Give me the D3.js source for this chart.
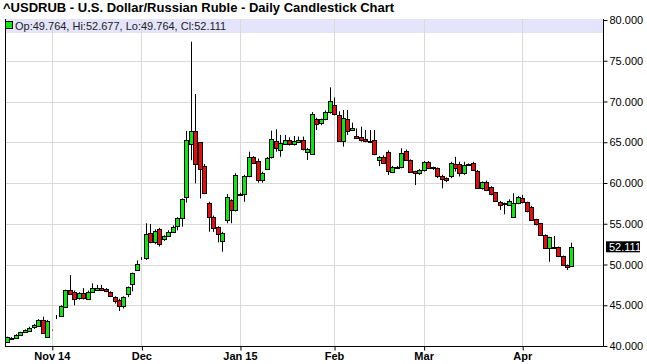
<!DOCTYPE html>
<html>
<head>
<meta charset="utf-8">
<script src="https://cdn.jsdelivr.net/npm/d3@7"></script>
<style>
  body { margin: 0; background: #fff; }
  svg { display: block; font-family: "Liberation Sans", Arial, sans-serif; }
</style>
</head>
<body>
<svg id="chart" width="647" height="364"></svg>
<script>
// daily candles, Oct 20 2014 .. Apr 2015 (one entry per trading day)
const opens = [
  40.45, 40.90, 40.98, 41.30, 41.68, 41.90, 42.25, 42.50, 43.20, 41.05,
  41.95, 43.60, 43.70, 44.82, 46.90, 46.65, 45.85, 46.45, 45.85, 46.66,
  46.95, 47.15, 46.95, 46.65, 46.05, 45.70, 44.95, 46.35, 47.50, 49.30,
  50.83, 50.83, 53.90, 52.72, 54.32, 53.10, 53.50, 54.02, 54.64, 55.67,
  58.25, 64.80, 66.42, 64.99, 62.08, 57.50, 55.87, 54.64, 52.80, 55.55,
  57.90, 56.69, 58.60, 58.65, 60.86, 63.15, 62.70, 60.37, 61.68, 63.15,
  65.19, 63.97, 64.79, 65.28, 64.79, 65.07, 65.28, 63.72, 63.56, 67.82,
  67.30, 67.82, 68.67, 69.57, 68.34, 65.07, 67.80, 66.50, 65.80, 65.69,
  65.36, 65.10, 65.28, 62.82, 63.23, 63.77, 61.31, 61.90, 61.93, 63.93,
  62.82, 61.47, 61.19, 61.50, 62.62, 61.95, 61.80, 60.90, 60.57, 60.77,
  62.30, 62.33, 61.27, 62.20, 62.42, 61.50, 59.35, 60.08, 59.47, 58.85,
  57.70, 57.40, 57.38, 55.79, 57.50, 58.12, 57.63, 57.09, 55.55, 55.06,
  53.62, 51.98, 52.20, 52.11, 51.04, 49.94, 49.764
];
const highs = [
  41.15, 41.10, 41.45, 41.75, 42.05, 42.35, 42.70, 43.30, 43.60, 43.20,
  42.00, 43.80, 45.00, 46.90, 48.70, 46.80, 46.60, 47.10, 46.80, 47.70,
  47.50, 47.50, 47.10, 46.70, 46.10, 45.80, 46.10, 47.30, 49.00, 50.50,
  50.90, 55.06, 54.97, 54.30, 54.50, 53.60, 54.20, 54.80, 55.80, 58.10,
  66.40, 77.34, 70.92, 65.00, 62.33, 57.70, 56.00, 54.70, 54.00, 58.65,
  58.00, 61.20, 58.80, 61.00, 63.84, 63.30, 63.00, 61.40, 63.20, 66.42,
  66.60, 65.89, 65.90, 65.60, 65.77, 65.70, 65.70, 64.30, 68.70, 68.00,
  67.90, 68.90, 71.74, 70.50, 68.80, 68.96, 68.96, 67.40, 66.70, 66.90,
  66.50, 66.50, 66.50, 63.30, 63.40, 64.00, 62.10, 62.10, 64.26, 64.10,
  62.90, 61.50, 61.70, 62.70, 62.70, 62.00, 61.90, 61.00, 60.70, 62.60,
  63.20, 62.60, 62.60, 62.40, 62.60, 61.60, 60.20, 60.30, 59.60, 58.90,
  57.80, 57.60, 58.00, 58.73, 58.40, 58.53, 57.70, 57.20, 55.60, 55.10,
  53.70, 53.40, 53.50, 52.20, 51.10, 50.00, 52.677
];
const lows = [
  40.40, 40.85, 40.95, 41.25, 41.60, 41.85, 42.10, 42.40, 41.50, 41.00,
  41.90, 43.30, 43.60, 44.80, 46.30, 45.00, 45.70, 45.70, 45.70, 46.60,
  46.90, 46.80, 46.60, 46.00, 45.20, 44.30, 44.60, 46.00, 46.70, 49.20,
  50.55, 50.55, 52.60, 52.50, 52.20, 52.90, 53.40, 53.90, 54.20, 54.64,
  57.60, 62.80, 59.96, 58.10, 58.70, 54.02, 54.00, 52.72, 51.57, 55.06,
  55.06, 56.50, 58.40, 57.70, 60.70, 62.40, 60.04, 60.04, 61.60, 63.00,
  63.84, 63.22, 64.70, 64.60, 64.60, 64.90, 64.00, 62.82, 63.50, 66.50,
  67.10, 67.70, 68.50, 68.30, 65.07, 64.46, 65.90, 66.40, 65.50, 65.07,
  65.00, 64.90, 63.40, 62.08, 62.40, 60.98, 61.20, 61.80, 61.80, 62.70,
  61.30, 59.75, 61.00, 61.40, 61.80, 61.60, 60.60, 59.35, 60.10, 60.60,
  61.40, 60.80, 61.00, 62.10, 61.50, 59.30, 59.20, 59.00, 58.50, 57.70,
  56.69, 56.16, 57.20, 55.70, 57.40, 57.50, 56.40, 55.40, 54.80, 53.50,
  52.00, 50.34, 51.90, 50.90, 49.80, 49.33, 49.764
];
const closes = [
  41.07, 41.00, 41.35, 41.68, 41.93, 42.25, 42.54, 43.20, 41.60, 43.05,
  41.93, 43.62, 44.95, 46.85, 46.45, 45.85, 46.45, 45.85, 46.66, 47.10,
  47.15, 46.90, 46.65, 46.10, 45.50, 45.00, 46.05, 47.20, 48.90, 50.06,
  50.87, 53.74, 52.80, 54.10, 52.52, 53.50, 54.00, 54.64, 55.67, 58.00,
  65.28, 66.42, 62.33, 61.68, 58.81, 55.79, 54.56, 53.74, 53.83, 58.32,
  56.69, 60.98, 58.50, 60.86, 63.15, 62.42, 60.37, 61.26, 63.03, 65.36,
  64.38, 64.87, 65.28, 64.79, 65.15, 65.28, 64.14, 64.14, 68.47, 67.20,
  67.80, 68.67, 70.06, 68.43, 65.19, 67.94, 66.38, 66.79, 65.60, 65.36,
  65.15, 64.95, 63.52, 63.15, 62.54, 61.47, 61.93, 62.00, 63.64, 62.82,
  61.39, 61.27, 61.60, 62.54, 61.93, 61.85, 60.77, 60.49, 60.28, 62.40,
  61.80, 61.19, 62.20, 62.30, 61.60, 59.40, 60.10, 59.14, 58.65, 57.79,
  57.38, 57.50, 57.83, 57.50, 58.24, 57.63, 56.48, 55.55, 54.93, 53.62,
  52.06, 53.34, 52.10, 51.04, 49.94, 49.73, 52.111
];

// month ticks: index of first trading day of each month
const tickIdx = [10, 30, 52, 73, 93, 115];
const tickLabels = ["Nov 14", "Dec", "Jan 15", "Feb", "Mar", "Apr"];
const yTicks = [40, 45, 50, 55, 60, 65, 70, 75, 80];

const title = "^USDRUB - U.S. Dollar/Russian Ruble - Daily Candlestick Chart";
const legendText = "Op:49.764, Hi:52.677, Lo:49.764, Cl:52.111";

const plot = { left: 5, right: 603, top: 19, bottom: 346 };
const green = "#0be80b", red = "#e80b0b";

const svg = d3.select("#chart");

const x = d3.scaleLinear().domain([0, 126]).range([7, 7 + 4.48 * 126]);
const y = d3.scaleLinear().domain([40, 80]).range([346, 20]);

svg.append("rect").attr("width", 647).attr("height", 364).attr("fill", "#fff");

// title
svg.append("text")
  .attr("x", 3).attr("y", 12)
  .attr("font-size", "13px").attr("font-weight", "bold")
  .text(title);

// legend band
svg.append("rect")
  .attr("x", plot.left).attr("y", plot.top)
  .attr("width", plot.right - plot.left).attr("height", 14)
  .attr("fill", "#e4e4fa");

// grid
const grid = svg.append("g").attr("stroke", "#d9d9d9").attr("stroke-width", 1);
grid.selectAll(".hg")
  .data(yTicks.filter(v => v > 40 && v < 80))
  .enter().append("line")
  .attr("x1", plot.left).attr("x2", plot.right)
  .attr("y1", d => Math.round(y(d)) + 0.5).attr("y2", d => Math.round(y(d)) + 0.5);
grid.selectAll(".vg")
  .data(tickIdx)
  .enter().append("line")
  .attr("x1", d => Math.round(x(d)) + 0.5).attr("x2", d => Math.round(x(d)) + 0.5)
  .attr("y1", plot.top).attr("y2", plot.bottom);

// legend content
svg.append("rect")
  .attr("x", 5.5).attr("y", 21.5).attr("width", 7).attr("height", 7)
  .attr("fill", green).attr("stroke", "#000");
svg.append("text")
  .attr("x", 15).attr("y", 29.5)
  .attr("font-size", "11px").attr("fill", "#222")
  .text(legendText);

// candles
const idx = d3.range(opens.length);
const candles = svg.append("g");
candles.selectAll(".wick")
  .data(idx)
  .enter().append("line")
  .attr("x1", i => Math.round(x(i)) + 0.5).attr("x2", i => Math.round(x(i)) + 0.5)
  .attr("y1", i => y(highs[i])).attr("y2", i => y(lows[i]))
  .attr("stroke", "#000").attr("stroke-width", 1);
candles.selectAll(".body")
  .data(idx)
  .enter().append("rect")
  .attr("x", i => Math.round(x(i)) - 1.5)
  .attr("y", i => Math.round(y(Math.max(opens[i], closes[i]))) + 0.5)
  .attr("width", 4)
  .attr("height", i => Math.max(0, Math.round(Math.abs(y(opens[i]) - y(closes[i])))))
  .attr("fill", i => closes[i] >= opens[i] ? green : red)
  .attr("stroke", "#000").attr("stroke-width", 1);

// frame
svg.append("line")
  .attr("x1", plot.left + 0.5).attr("x2", plot.left + 0.5)
  .attr("y1", plot.top).attr("y2", plot.bottom)
  .attr("stroke", "#000");

// right axis
const yAxis = svg.append("g")
  .attr("transform", `translate(${plot.right + 0.5},0)`)
  .call(d3.axisRight(y).tickValues(yTicks).tickFormat(d3.format(".3f")).tickSize(4).tickPadding(2));
yAxis.select(".domain").attr("d", `M0,${plot.top}V${plot.bottom + 0.5}`);
yAxis.selectAll("text").attr("font-size", "11px").attr("font-family", "Liberation Sans, Arial, sans-serif");

// bottom axis
const xAxis = svg.append("g")
  .attr("transform", `translate(0,${plot.bottom + 0.5})`)
  .call(d3.axisBottom(x).tickValues(tickIdx).tickFormat((d, i) => tickLabels[i]).tickSize(4).tickPadding(2));
xAxis.select(".domain").attr("d", `M${plot.left},0H${plot.right + 0.5}`);
xAxis.selectAll(".tick line").attr("transform", "translate(0.5,0)");
xAxis.selectAll("text")
  .attr("font-size", "11px").attr("font-weight", "bold")
  .attr("font-family", "Liberation Sans, Arial, sans-serif");

// last price marker
const last = closes[closes.length - 1];
const lastTag = svg.append("g").attr("transform", `translate(${plot.right + 3},${y(last)})`);
lastTag.append("rect").attr("x", 0).attr("y", -6).attr("width", 34).attr("height", 11).attr("fill", "#000");
lastTag.append("text")
  .attr("x", 3).attr("y", 4)
  .attr("font-size", "11px").attr("fill", "#fff")
  .text(d3.format(".3f")(last));
</script>
</body>
</html>
